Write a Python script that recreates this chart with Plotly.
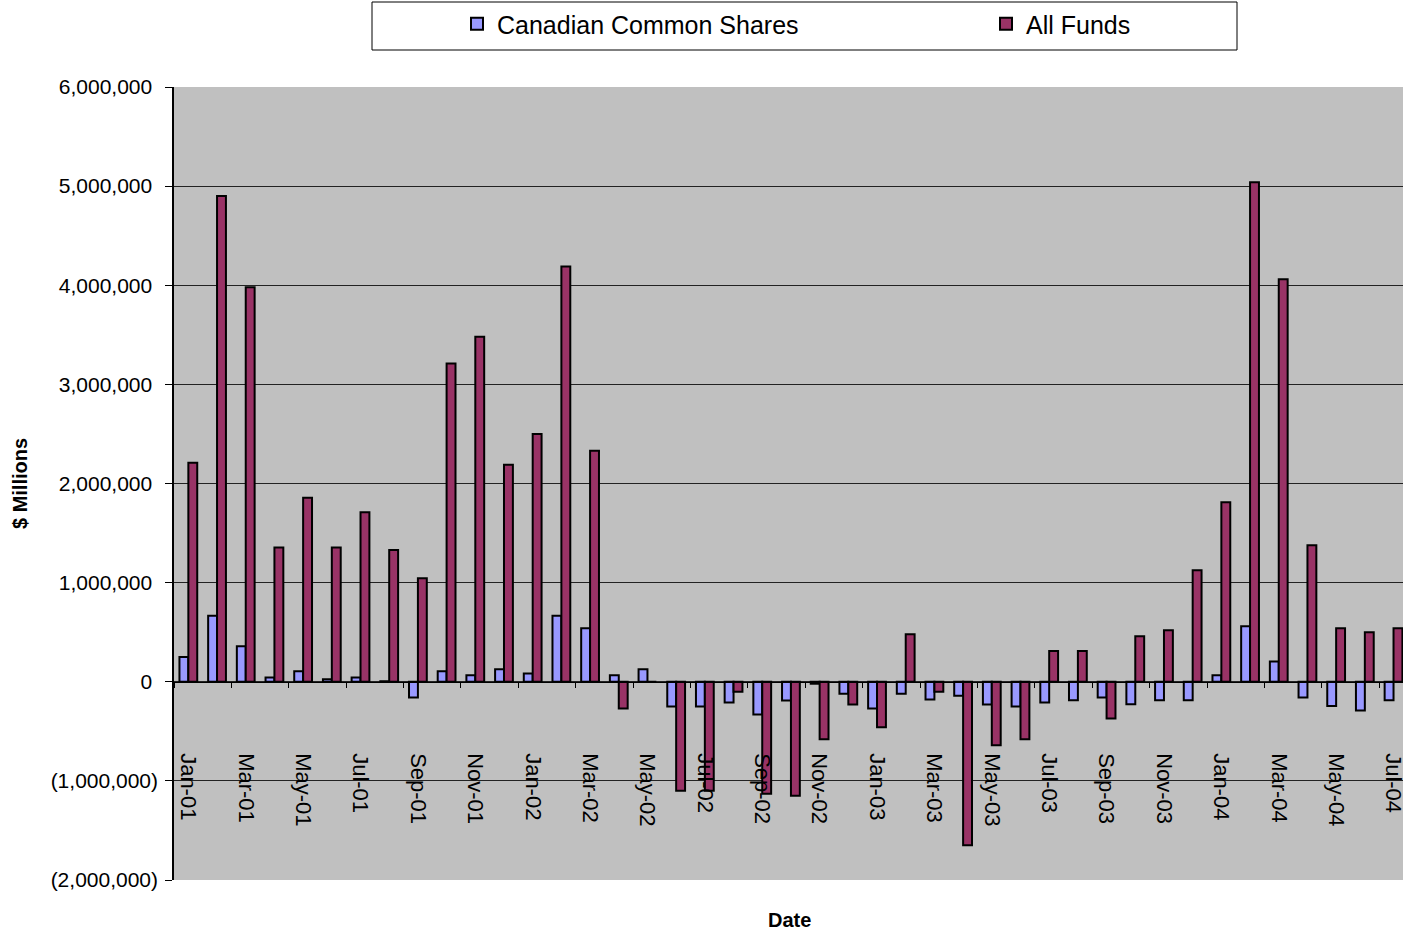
import plotly.graph_objects as go

months = ["Jan-01", "Feb-01", "Mar-01", "Apr-01", "May-01", "Jun-01", "Jul-01", "Aug-01", "Sep-01", "Oct-01", "Nov-01", "Dec-01",
          "Jan-02", "Feb-02", "Mar-02", "Apr-02", "May-02", "Jun-02", "Jul-02", "Aug-02", "Sep-02", "Oct-02", "Nov-02", "Dec-02",
          "Jan-03", "Feb-03", "Mar-03", "Apr-03", "May-03", "Jun-03", "Jul-03", "Aug-03", "Sep-03", "Oct-03", "Nov-03", "Dec-03",
          "Jan-04", "Feb-04", "Mar-04", "Apr-04", "May-04", "Jun-04", "Jul-04"]

canadian_common_shares = [250000, 667000, 357000, 43000, 105000, 25000, 43000, 5000, -160000, 105000, 65000, 126000,
                          83000, 667000, 540000, 65000, 126000, -250000, -250000, -210000, -330000, -190000, -20000, -120000,
                          -270000, -120000, -180000, -140000, -230000, -250000, -210000, -187000, -160000, -227000, -187000, -187000,
                          65000, 560000, 205000, -160000, -245000, -290000, -187000]

all_funds = [2210000, 4900000, 3980000, 1355000, 1855000, 1355000, 1710000, 1330000, 1045000, 3210000, 3480000, 2190000,
             2500000, 4190000, 2330000, -270000, 0, -1100000, -1100000, -100000, -1130000, -1150000, -580000, -230000,
             -460000, 480000, -100000, -1650000, -640000, -580000, 310000, 310000, -370000, 460000, 520000, 1124000,
             1810000, 5040000, 4060000, 1376000, 540000, 500000, 540000]

y_tick_values = [6000000, 5000000, 4000000, 3000000, 2000000, 1000000, 0, -1000000, -2000000]
y_tick_labels = ["6,000,000\u00a0", "5,000,000\u00a0", "4,000,000\u00a0", "3,000,000\u00a0", "2,000,000\u00a0",
                 "1,000,000\u00a0", "0\u00a0", "(1,000,000)", "(2,000,000)"]

FONT = "Liberation Sans, Arial, sans-serif"
L, T, B = 174, 87, 53
PW, PH = 1229, 793


def px_x(p):
    return (p - L) / PW


def px_y(p):
    return (933 - B - p) / PH


fig = go.Figure()
fig.add_trace(go.Bar(x=months, y=canadian_common_shares, name="Canadian Common Shares", legend="legend",
                     marker=dict(color="#9999FF", line=dict(color="black", width=2))))
fig.add_trace(go.Bar(x=months, y=all_funds, name="All Funds", legend="legend2",
                     marker=dict(color="#993366", line=dict(color="black", width=2))))

legend_common = dict(orientation="h", xanchor="left", yanchor="middle", xref="paper", yref="paper",
                     bgcolor="rgba(0,0,0,0)", borderwidth=0, font=dict(size=25, family=FONT))

fig.update_layout(
    width=1403, height=933,
    margin=dict(l=L, r=0, t=T, b=B, autoexpand=False),
    paper_bgcolor="white", plot_bgcolor="#C0C0C0",
    barmode="group", bargap=0.38, bargroupgap=0,
    font=dict(family=FONT, color="black"),
    showlegend=True,
    legend=dict(legend_common, x=px_x(457), y=px_y(24)),
    legend2=dict(legend_common, x=px_x(986), y=px_y(24)),
    xaxis=dict(type="category", range=[-0.5, 42.33], anchor="free", position=0.25,
               showline=True, linecolor="black", linewidth=1,
               ticks="outside", ticklen=5, tickcolor="black", tickson="boundaries",
               tickmode="array", tickvals=months[::2], tickangle=90,
               tickfont=dict(size=22, family=FONT), ticklabelstandoff=66,
               showgrid=False, zeroline=False),
    yaxis=dict(range=[-2000000, 6000000], tickmode="array", tickvals=y_tick_values, ticktext=y_tick_labels,
               showline=True, linecolor="black", linewidth=1.5,
               ticks="outside", ticklen=7, tickcolor="black", ticklabelstandoff=3,
               showgrid=True, gridcolor="#222222", gridwidth=1, zeroline=False,
               tickfont=dict(size=21, family=FONT),
               title=dict(text="<b>$ Millions</b>", font=dict(size=20, family=FONT), standoff=18)),
    shapes=[dict(type="rect", xref="paper", yref="paper",
                 x0=px_x(372), x1=px_x(1237), y0=px_y(50), y1=px_y(2),
                 line=dict(color="black", width=1), fillcolor="white", layer="below")],
    annotations=[dict(text="<b>Date</b>", xref="paper", yref="paper", x=px_x(789), y=px_y(920),
                      xanchor="center", yanchor="middle", showarrow=False, font=dict(size=20, family=FONT))],
)

fig.write_html("out.html", config={"displayModeBar": False}, post_script="document.body.style.margin='0';")
